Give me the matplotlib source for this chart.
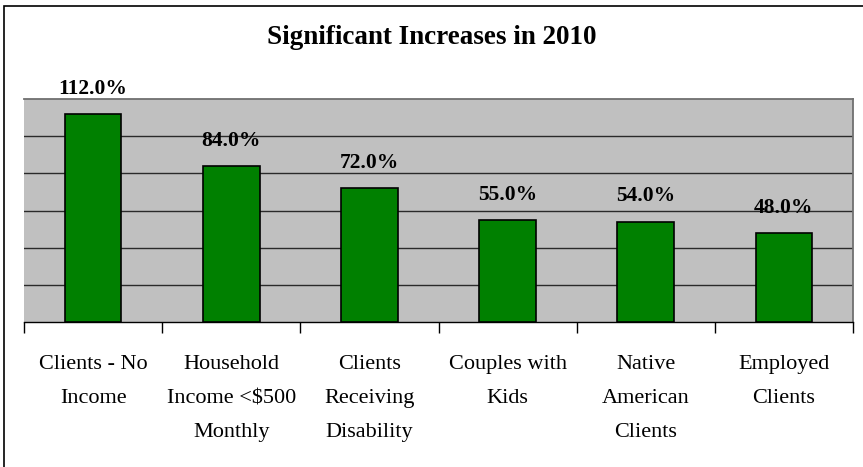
import matplotlib.pyplot as plt
import numpy as np
from matplotlib.patches import Rectangle

categories = [
    "Clients - No\nIncome",
    "Household\nIncome <$500\nMonthly",
    "Clients\nReceiving\nDisability",
    "Couples with\nKids",
    "Native\nAmerican\nClients",
    "Employed\nClients",
]
increases = [112.0, 84.0, 72.0, 55.0, 54.0, 48.0]

plt.rcParams["font.family"] = ["Liberation Serif", "DejaVu Serif"]

fig = plt.figure(figsize=(8.63, 4.67), dpi=100)
ax = fig.add_axes([24 / 863, 1 - 322 / 467, (853 - 24) / 863, (322 - 99) / 467])

x = np.arange(len(categories))
ax.bar(x, increases, width=0.41, color="#008000", edgecolor="black", linewidth=1.2, zorder=3)

for xi, v in zip(x, increases):
    ax.annotate(f"{v:.1f}%", (xi, v), xytext=(0, 11), textcoords="offset points",
                ha="center", va="bottom", fontsize=15.5, fontweight="bold", zorder=4)

# category labels drawn as text so the wide line spacing sticks
for xi, cat in zip(x, categories):
    ax.annotate(cat, (xi, 0), xytext=(0, -24), textcoords="offset points",
                ha="center", va="top", fontsize=16, linespacing=2.05,
                annotation_clip=False)

ax.set_xlim(-0.5, len(categories) - 0.5)
ax.set_ylim(0, 120)
ax.set_facecolor("#c0c0c0")
ax.set_yticks(np.arange(20, 120, 20))
ax.tick_params(axis="y", left=False, labelleft=False)
ax.grid(axis="y", color="#2a2a2a", linewidth=1.0, zorder=1)

# ticks on the category boundaries
ax.set_xticks(np.arange(-0.5, len(categories), 1.0))
ax.tick_params(axis="x", length=8, width=1, color="black", direction="out", labelbottom=False)

for side in ("top", "right"):
    ax.spines[side].set_color("#707070")
    ax.spines[side].set_linewidth(1.3)
ax.spines["left"].set_visible(False)
ax.spines["bottom"].set_color("black")
ax.spines["bottom"].set_linewidth(1.0)

fig.text(0.5, 1 - 38 / 467, "Significant Increases in 2010", ha="center", va="center",
         fontsize=19.5, fontweight="bold")

fig.patches.append(Rectangle((4 / 863, -0.01), 1.0, 1 - 6 / 467 + 0.01, transform=fig.transFigure,
                             fill=False, edgecolor="black", linewidth=1.2))

fig.savefig("out.png", dpi=100)
